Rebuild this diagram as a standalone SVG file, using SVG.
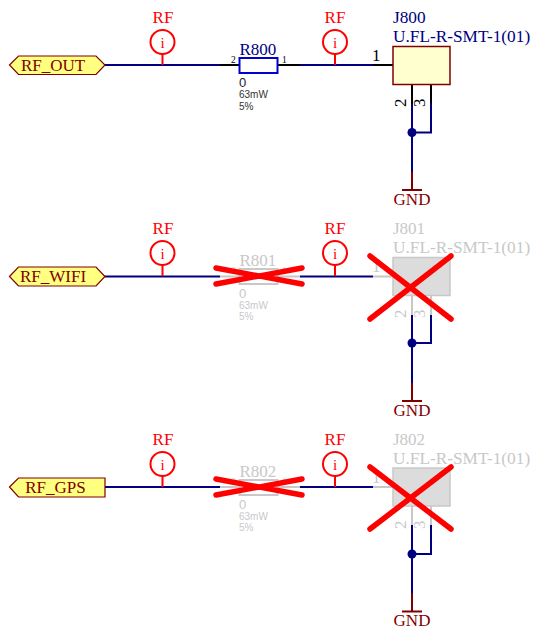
<svg xmlns="http://www.w3.org/2000/svg" width="540" height="629" viewBox="0 0 540 629">
<style>
text{font-family:"Liberation Serif","Times New Roman",serif}
.s{font-family:"Liberation Sans",Arial,sans-serif}
.w{fill:none;stroke:#000080;stroke-width:2}
.p{fill:none;stroke:#000;stroke-width:2}
.g{fill:none;stroke:#800000;stroke-width:2}
.rf{fill:#f00;font-size:17px;text-anchor:middle}
.i{fill:#f00;font-size:15px;text-anchor:middle}
.pr{fill:none;stroke:#f00;stroke-width:2}
.lab{fill:#ffff80;stroke:#800000;stroke-width:1.2}
.lt{fill:#800000;font-size:17px;text-anchor:middle}
.nav{fill:#000080;font-size:17.300px}
.dim{fill:#c8c8c8}
.dl{fill:none;stroke:#c8c8c8;stroke-width:2}
.x{fill:none;stroke:#f00;stroke-width:5.500;stroke-linecap:round}
</style>
<g id="connectors">
<path class="w" d="M105 65H220M300 65H373M412 104V172M431 104V132.500H412"/>
<path class="w" d="M105 276.500H220M300 276.500H373M412 315V383M431 315V343H412"/>
<path class="w" d="M105 487H220M300 487H373M412 525V593M431 525V554H412"/>
<circle cx="412" cy="132.500" r="4.500" fill="#000080"/>
<circle cx="412" cy="343" r="4.500" fill="#000080"/>
<circle cx="412" cy="554" r="4.500" fill="#000080"/>
</g>
<g id="RF_OUT"><path class="lab" d="M9.500 65L18.500 56H96L105 65L96 74.500H18.500Z"/><text class="lt" x="53" y="71">RF_OUT</text></g>
<g id="RF_WIFI"><path class="lab" d="M9.500 276.500L18.500 267H96L105 276.500L96 286H18.500Z"/><text class="lt" x="53" y="282">RF_WIFI</text></g>
<g id="RF_GPS"><path class="lab" d="M9.500 487L18.500 478H105V497H18.500Z"/><text class="lt" x="55.500" y="493">RF_GPS</text></g>
<g id="TP1"><text class="rf" x="163" y="23">RF</text><circle class="pr" cx="162.500" cy="42" r="12"/><path class="pr" d="M162.500 54V65"/><text class="i" x="162.500" y="47.500">i</text></g>
<g id="TP2"><text class="rf" x="335" y="23">RF</text><circle class="pr" cx="335" cy="42" r="12"/><path class="pr" d="M335 54V65"/><text class="i" x="335" y="47.500">i</text></g>
<g id="TP3"><text class="rf" x="163" y="234">RF</text><circle class="pr" cx="162.500" cy="253" r="12"/><path class="pr" d="M162.500 265V276"/><text class="i" x="162.500" y="258.500">i</text></g>
<g id="TP4"><text class="rf" x="335" y="234">RF</text><circle class="pr" cx="335" cy="253" r="12"/><path class="pr" d="M335 265V276"/><text class="i" x="335" y="258.500">i</text></g>
<g id="TP5"><text class="rf" x="163" y="445">RF</text><circle class="pr" cx="162.500" cy="464" r="12"/><path class="pr" d="M162.500 476V487"/><text class="i" x="162.500" y="469.500">i</text></g>
<g id="TP6"><text class="rf" x="335" y="445">RF</text><circle class="pr" cx="335" cy="464" r="12"/><path class="pr" d="M335 476V487"/><text class="i" x="335" y="469.500">i</text></g>
<g id="R800">
<path class="p" d="M220 65H239M278 65H300"/>
<rect x="239.500" y="58" width="38" height="15" fill="#fff" stroke="#0000d0" stroke-width="2"/>
<text x="239.500" y="55" fill="#000080" font-size="17">R800</text>
<text x="231" y="63" font-size="9.500" fill="#000">2</text><text x="282" y="63" font-size="9.500" fill="#000">1</text>
<text class="s" x="239" y="87" font-size="13" fill="#222">0</text>
<text class="s" x="239" y="98" font-size="10" fill="#333">63mW</text>
<text class="s" x="239" y="110" font-size="10" fill="#333">5%</text>
</g>
<g id="J800">
<path class="p" d="M373 65H393M412 84V104M431 84V104"/>
<rect x="393" y="46.500" width="57" height="38" fill="#ffffd0" stroke="#800000" stroke-width="1.500"/>
<text class="nav" x="393" y="23">J800</text><text class="nav" x="393" y="42">U.FL-R-SMT-1(01)</text>
<text x="372" y="61" font-size="17" fill="#000">1</text>
<text transform="translate(406,107) rotate(-90)" font-size="17" fill="#000">2</text>
<text transform="translate(425,107) rotate(-90)" font-size="17" fill="#000">3</text>
</g>
<g id="GND1"><path class="g" d="M412 172V190M402 190H422"/><text class="lt" x="412" y="205">GND</text></g>
<g id="R801">
<path class="dl" d="M220 276.500H239M278 276.500H300"/>
<rect x="239.500" y="269" width="38" height="15" fill="#fff" stroke="#c8c8c8" stroke-width="2"/>
<text class="dim" x="239.500" y="266" font-size="17">R801</text>
<text class="dim" x="231" y="274" font-size="9.500">2</text><text class="dim" x="282" y="274" font-size="9.500">1</text>
<text class="s dim" x="239" y="298" font-size="13">0</text>
<text class="s dim" x="239" y="309" font-size="10">63mW</text>
<text class="s dim" x="239" y="320" font-size="10">5%</text>
<path class="x" d="M216 268L302 284M216 284L302 268"/>
</g>
<g id="J801">
<path class="dl" d="M373 276.500H393M412 295V315M431 295V315"/>
<rect x="393" y="257.500" width="57" height="38" fill="#dcdcdc" stroke="#c8c8c8" stroke-width="1.500"/>
<text class="dim" x="393" y="234" font-size="17">J801</text><text class="dim" x="393" y="253" font-size="17.300">U.FL-R-SMT-1(01)</text>
<text class="dim" x="372" y="272" font-size="17">1</text>
<text class="dim" transform="translate(406,318) rotate(-90)" font-size="17">2</text>
<text class="dim" transform="translate(425,318) rotate(-90)" font-size="17">3</text>
<path class="x" d="M370 256L451 319M370 319L451 256"/>
</g>
<g id="GND2"><path class="g" d="M412 383V401M402 401H422"/><text class="lt" x="412" y="415.500">GND</text></g>
<g id="R802">
<path class="dl" d="M220 487H239M278 487H300"/>
<rect x="239.500" y="480" width="38" height="15" fill="#fff" stroke="#c8c8c8" stroke-width="2"/>
<text class="dim" x="239.500" y="477" font-size="17">R802</text>
<text class="dim" x="231" y="485" font-size="9.500">2</text><text class="dim" x="282" y="485" font-size="9.500">1</text>
<text class="s dim" x="239" y="509" font-size="13">0</text>
<text class="s dim" x="239" y="520" font-size="10">63mW</text>
<text class="s dim" x="239" y="531" font-size="10">5%</text>
<path class="x" d="M216 479L302 495M216 495L302 479"/>
</g>
<g id="J802">
<path class="dl" d="M373 487H393M412 506V525M431 506V525"/>
<rect x="393" y="468" width="57" height="38" fill="#dcdcdc" stroke="#c8c8c8" stroke-width="1.500"/>
<text class="dim" x="393" y="445" font-size="17">J802</text><text class="dim" x="393" y="464" font-size="17.300">U.FL-R-SMT-1(01)</text>
<text class="dim" x="372" y="483" font-size="17">1</text>
<text class="dim" transform="translate(406,529) rotate(-90)" font-size="17">2</text>
<text class="dim" transform="translate(425,529) rotate(-90)" font-size="17">3</text>
<path class="x" d="M370 467L451 529M370 529L451 467"/>
</g>
<g id="GND3"><path class="g" d="M412 593V611.500M402 611.500H422"/><text class="lt" x="412" y="625.500">GND</text></g>
</svg>
